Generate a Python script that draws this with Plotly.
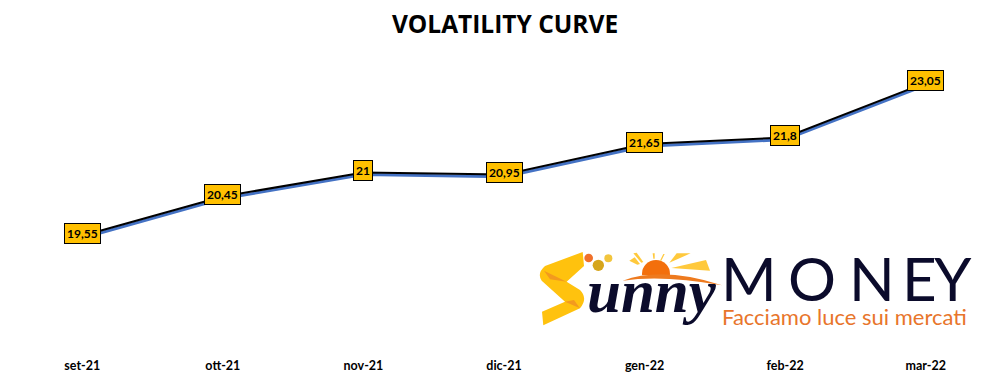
import plotly.graph_objects as go

categories = ["set-21", "ott-21", "nov-21", "dic-21", "gen-22", "feb-22", "mar-22"]
values = [19.55, 20.45, 21, 20.95, 21.65, 21.8, 23.05]
labels = ["19,55", "20,45", "21", "20,95", "21,65", "21,8", "23,05"]

W, H = 1005, 384
LINE_BLUE = "#4472C4"
NAVY = "#0B0B2B"
ORANGE = "#E8752B"
YEL = "#FFC000"

def px(x): return x / W
def py(y): return 1 - y / H

# plot area in pixels
L, R, T, B = 12, 996, 40, 352
RANGE = (16.94, 24.08)

fig = go.Figure()
fig.add_trace(go.Scatter(x=categories, y=values, mode="lines",
                         line=dict(color=LINE_BLUE, width=3), hoverinfo="skip", xaxis="x", yaxis="y"))
fig.add_trace(go.Scatter(x=categories, y=values, mode="lines+markers",
                         line=dict(color="black", width=2),
                         marker=dict(color="black", size=6, symbol="diamond"),
                         hoverinfo="skip", xaxis="x", yaxis="y2"))

anns = []
for c, v, t_ in zip(categories, values, labels):
    anns.append(dict(x=c, y=v, xref="x", yref="y2", text="<b>%s</b>" % t_, showarrow=False,
                     yshift=2, bgcolor=YEL, bordercolor="black", borderwidth=1, borderpad=2,
                     font=dict(family="Lato", size=12, color="black")))

# ---- logo: zoom-space helpers
def zx(x): return px(530 + x / 3)
def zy(y): return py(240 + y / 3)
def poly(points, color, close=True):
    d = ""
    for i, p in enumerate(points):
        if len(p) == 2:
            d += ("M" if i == 0 else "L") + "%.4f,%.4f " % (zx(p[0]), zy(p[1]))
        else:
            d += "Q%.4f,%.4f %.4f,%.4f " % (zx(p[0]), zy(p[1]), zx(p[2]), zy(p[3]))
    if close: d += "Z"
    return dict(type="path", path=d, xref="paper", yref="paper", fillcolor=color, line=dict(width=0), layer="above")
def circ(x, y, r, color):
    return dict(type="circle", xref="paper", yref="paper", x0=zx(x - r), x1=zx(x + r), y0=zy(y + r), y1=zy(y - r),
                fillcolor=color, line=dict(width=0), layer="above")

shapes = [
    poly([(158, 36), (45, 78), (20, 100, 35, 122), (105, 185), (36, 215), (40, 256), (150, 205),
          (175, 175, 150, 150), (110, 125), (162, 78)], "#FFC20E"),
    poly([(42, 92), (110, 125), (60, 118)], "#F39A1E"),
    poly([(105, 185), (150, 205), (132, 180)], "#F39A1E"),
    circ(176, 54, 13, "#F0702A"),
    circ(205, 76, 17, "#D6A51C"),
    circ(235, 55, 12, "#F2C53D"),
    circ(378, 102, 42, "#F36F0C"),
    poly([(280, 150), (280, 106), (480, 106), (480, 150)], "#FFFFFF"),
    poly([(278, 122), (400, 78, 576, 136), (400, 104, 278, 122)], "#EE7A1E"),
    poly([(298, 62), (314, 52), (330, 72), (322, 74)], "#FFC93C"),
    poly([(310, 40), (320, 38), (340, 66), (334, 68)], "#FFC93C"),
    poly([(368, 40), (374, 40), (374, 56), (370, 56)], "#FFC93C"),
    poly([(400, 42), (404, 42), (394, 62), (390, 62)], "#FFC93C"),
    poly([(440, 40), (482, 40), (418, 68)], "#FFC93C"),
    poly([(424, 84), (528, 60), (540, 92)], "#FFC93C"),
]

def t(x, y, s, size, color, family, anchor="left"):
    anns.append(dict(x=px(x), y=py(y), xref="paper", yref="paper", text=s, showarrow=False,
                     xanchor=anchor, yanchor="middle", font=dict(family=family, size=size, color=color)))

t(585, 291, "<b><i>unny</i></b>", 61, NAVY, "Liberation Serif")
for ch, cx in zip("MONEY", [749, 812, 872, 919, 953]):
    t(cx, 278, ch, 60, NAVY, "Lato", "center")
t(720, 316, "Facciamo luce sui mercati", 22, ORANGE, "Lato")

fig.update_layout(
    width=W, height=H, autosize=False,
    margin=dict(l=0, r=0, t=0, b=0),
    paper_bgcolor="white", plot_bgcolor="white", showlegend=False,
    title=dict(text="<b>VOLATILITY CURVE</b>", x=505 / W, y=py(24), xanchor="center", yanchor="middle",
               font=dict(family="Open Sans", size=24.5, color="black")),
    xaxis=dict(domain=[px(L), px(R)], type="category", categoryorder="array", categoryarray=categories,
               range=[-0.5, 6.5], showgrid=False, zeroline=False, showline=False, ticks="",
               tickfont=dict(family="Lato", size=12.5, color="black"), ticklabelstandoff=4,
               tickprefix="<b>", ticksuffix="</b>", anchor="y"),
    yaxis=dict(domain=[py(B), py(T)], range=list(RANGE), visible=False),
    yaxis2=dict(domain=[py(B), py(T)], range=[RANGE[0] - 0.05, RANGE[1] - 0.05], visible=False, overlaying="y"),
    annotations=anns, shapes=shapes,
)
fig.write_html("out.html", config={"displayModeBar": False},
               post_script="document.body.style.margin='0';")
